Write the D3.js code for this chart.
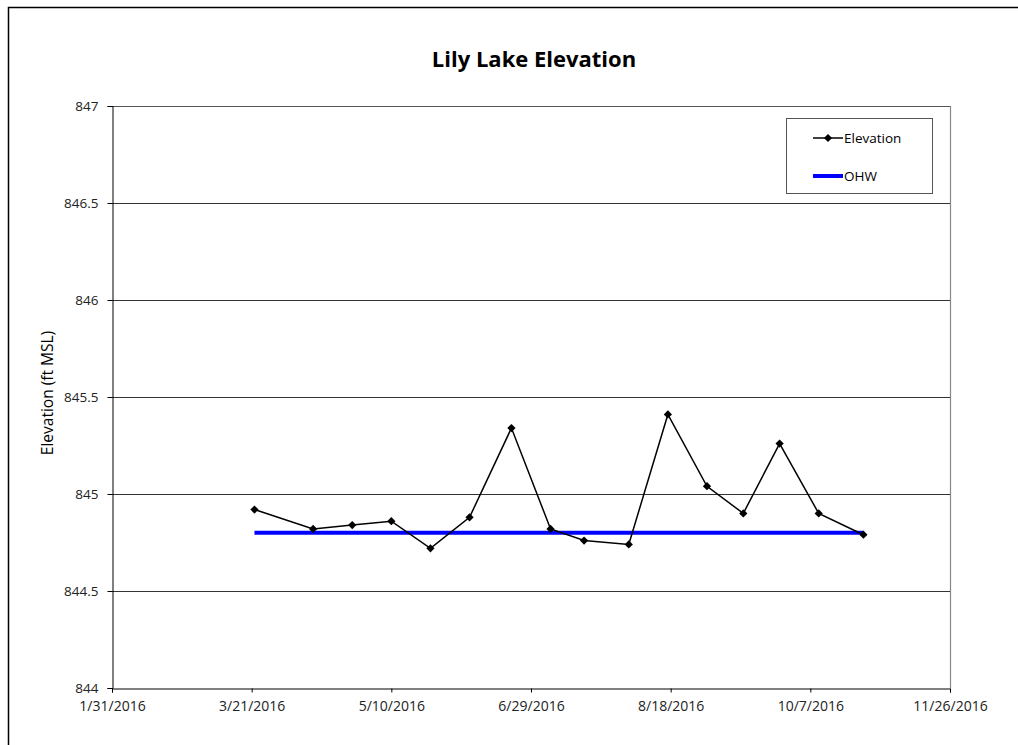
<!DOCTYPE html>
<html>
<head>
<meta charset="utf-8">
<script src="https://cdn.jsdelivr.net/npm/d3@7/dist/d3.min.js"></script>
<style>
  html, body { margin: 0; padding: 0; background: #fff; }
  svg { display: block; font-family: "Open Sans", "Liberation Sans", sans-serif; }
</style>
</head>
<body>
<svg id="chart" width="1018" height="745"></svg>
<script>
// Lake level readings (ft MSL) by survey date
const sampleDates = ["2016-03-22", "2016-04-12", "2016-04-26", "2016-05-10", "2016-05-24",
  "2016-06-07", "2016-06-22", "2016-07-06", "2016-07-18", "2016-08-03", "2016-08-17",
  "2016-08-31", "2016-09-13", "2016-09-26", "2016-10-10", "2016-10-26"];
const elevations = [844.92, 844.82, 844.84, 844.86, 844.72, 844.88, 845.34, 844.82,
  844.76, 844.74, 845.41, 845.04, 844.90, 845.26, 844.90, 844.79];

// Ordinary high water level, drawn across the sampling period
const ohwDates = ["2016-03-22", "2016-10-26"];
const ohwLevel = [844.8, 844.8];

// Axis ticks
const xTickDates = ["2016-01-31", "2016-03-21", "2016-05-10", "2016-06-29",
  "2016-08-18", "2016-10-07", "2016-11-26"];
const yTicks = [844, 844.5, 845, 845.5, 846, 846.5, 847];

const parse = d3.utcParse("%Y-%m-%d");
const fmt = d3.utcFormat("%-m/%-d/%Y");

const svg = d3.select("#chart");
const m = { left: 112, right: 950, top: 106, bottom: 688 };

// Outer frame (top and left edges)
svg.append("path")
  .attr("d", "M8.5,745 L8.5,7.5 L1018,7.5")
  .attr("fill", "none").attr("stroke", "#000").attr("stroke-width", 1.5);

const x = d3.scaleUtc()
  .domain([parse(xTickDates[0]), parse(xTickDates[xTickDates.length - 1])])
  .range([m.left, m.right]);
const y = d3.scaleLinear()
  .domain([yTicks[0], yTicks[yTicks.length - 1]])
  .range([m.bottom, m.top]);

// Title
svg.append("text")
  .attr("x", 534).attr("y", 67)
  .attr("text-anchor", "middle")
  .attr("font-size", 22).attr("font-weight", "bold")
  .attr("fill", "#000")
  .text("Lily Lake Elevation");

// Horizontal gridlines
svg.append("g")
  .selectAll("line")
  .data(yTicks.slice(1, -1))
  .join("line")
  .attr("x1", m.left).attr("x2", m.right)
  .attr("y1", d => Math.round(y(d)) + 0.5).attr("y2", d => Math.round(y(d)) + 0.5)
  .attr("stroke", "#000").attr("stroke-width", 0.8);

// Plot frame: top and right edges
svg.append("line")
  .attr("x1", m.left).attr("x2", m.right)
  .attr("y1", m.top + 0.5).attr("y2", m.top + 0.5)
  .attr("stroke", "#555").attr("stroke-width", 1);
svg.append("line")
  .attr("x1", m.right + 0.5).attr("x2", m.right + 0.5)
  .attr("y1", m.top).attr("y2", m.bottom)
  .attr("stroke", "#888").attr("stroke-width", 1.2);

// Y axis
const yAxis = svg.append("g")
  .attr("transform", `translate(${m.left + 0.5},0)`)
  .call(d3.axisLeft(y).tickValues(yTicks).tickSize(5).tickPadding(9)
    .tickFormat(d => String(d)));
yAxis.select(".domain").attr("stroke", "#000");
yAxis.selectAll(".tick line").attr("stroke", "#000");
yAxis.selectAll("text")
  .attr("font-size", 13.5).attr("fill", "#222")
  .attr("font-family", "'Open Sans', sans-serif");

// X axis
const xAxis = svg.append("g")
  .attr("transform", `translate(0,${m.bottom + 0.5})`)
  .call(d3.axisBottom(x).tickValues(xTickDates.map(parse)).tickSize(4).tickPadding(9)
    .tickFormat(fmt));
xAxis.select(".domain").attr("stroke", "#000");
xAxis.selectAll(".tick line").attr("stroke", "#000");
xAxis.selectAll("text")
  .attr("font-size", 14).attr("fill", "#222")
  .attr("font-family", "'Open Sans', sans-serif");

// Y axis title
svg.append("text")
  .attr("transform", `translate(53,${(m.top + m.bottom) / 2 - 4}) rotate(-90)`)
  .attr("text-anchor", "middle")
  .attr("font-size", 15.5).attr("fill", "#000")
  .text("Elevation (ft MSL)");

// OHW line
const ohw = ohwDates.map((d, i) => ({ date: parse(d), value: ohwLevel[i] }));
const line = d3.line().x(d => x(d.date)).y(d => y(d.value));
svg.append("path")
  .datum(ohw)
  .attr("d", line)
  .attr("fill", "none").attr("stroke", "#0000ff").attr("stroke-width", 4);

// Elevation series
const series = sampleDates.map((d, i) => ({ date: parse(d), value: elevations[i] }));
svg.append("path")
  .datum(series)
  .attr("d", line)
  .attr("fill", "none").attr("stroke", "#000").attr("stroke-width", 1.5);

// Square markers turned 45 degrees
const marker = d3.symbol().type(d3.symbolSquare).size(34);
svg.append("g")
  .selectAll("path")
  .data(series)
  .join("path")
  .attr("transform", d => `translate(${x(d.date)},${y(d.value)}) rotate(45)`)
  .attr("d", marker)
  .attr("fill", "#000");

// Legend
const lg = svg.append("g").attr("transform", "translate(786,118)");
lg.append("rect")
  .attr("x", 0.5).attr("y", 0.5).attr("width", 146).attr("height", 75)
  .attr("fill", "#fff").attr("stroke", "#555").attr("stroke-width", 1);
lg.append("line")
  .attr("x1", 27).attr("x2", 57).attr("y1", 20).attr("y2", 20)
  .attr("stroke", "#000").attr("stroke-width", 1.5);
lg.append("path")
  .attr("transform", "translate(42,20) rotate(45)")
  .attr("d", marker)
  .attr("fill", "#000");
lg.append("text")
  .attr("x", 58).attr("y", 25)
  .attr("font-size", 13.5).attr("fill", "#000")
  .text("Elevation");
lg.append("line")
  .attr("x1", 27).attr("x2", 57).attr("y1", 58).attr("y2", 58)
  .attr("stroke", "#0000ff").attr("stroke-width", 4);
lg.append("text")
  .attr("x", 58).attr("y", 63)
  .attr("font-size", 13.5).attr("fill", "#000")
  .text("OHW");
</script>
</body>
</html>
